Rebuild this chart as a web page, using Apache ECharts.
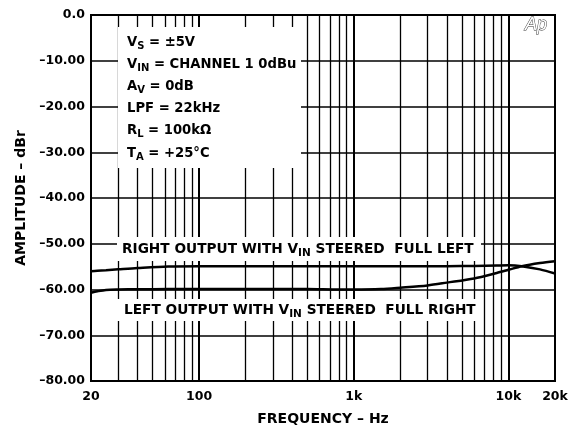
<!DOCTYPE html>
<html>
<head>
<meta charset="utf-8">
<script src="https://cdn.jsdelivr.net/npm/echarts@6/dist/echarts.min.js"></script>
<style>
html,body{margin:0;padding:0;background:#fff;}
#c{width:582px;height:431px;}
</style>
</head>
<body>
<div id="c"></div>
<script>
// ---- data ----
const freq = [20, 22, 25, 30, 40, 63, 100, 200, 500, 800, 1000, 1500, 2000, 3000, 4000, 6000, 8400, 10000, 12200, 16000, 20000];
const rightOut = [-56.0, -55.9, -55.8, -55.6, -55.3, -54.95, -54.9, -54.9, -54.9, -54.9, -54.9, -54.9, -54.9, -54.9, -54.9, -54.85, -54.75, -54.7, -54.9, -55.6, -56.5];
const leftOut = [-60.7, -60.4, -60.1, -60.0, -59.95, -59.9, -59.9, -59.9, -59.9, -60.0, -60.0, -59.9, -59.6, -59.1, -58.5, -57.6, -56.4, -55.7, -54.9, -54.2, -53.8];
const xTickValues = [20, 100, 1000, 10000, 20000];
const xTickLabels = ['20', '100', '1k', '10k', '20k'];
const minorGridFreqs = [30, 40, 50, 60, 70, 80, 90, 200, 300, 400, 500, 600, 700, 800, 900, 2000, 3000, 4000, 5000, 6000, 7000, 8000, 9000];
const decadeGridFreqs = [100, 1000, 10000];

const FONT = 'DejaVu Sans';

const chart = echarts.init(document.getElementById('c'), null, {renderer: 'canvas'});

function pairs(ys) { return freq.map((f, i) => [f, ys[i]]); }

const sub = {fontFamily: FONT, fontWeight: 'bold', fontSize: 10, lineHeight: 22.2, padding: [8, 0, 0, 0], fill: '#000'};
const nrm = {fontFamily: FONT, fontWeight: 'bold', fontSize: 13.2, lineHeight: 22.2, fill: '#000'};
const sub2 = {fontFamily: FONT, fontWeight: 'bold', fontSize: 10.5, lineHeight: 22, padding: [8, 0, 0, 0], fill: '#000'};
const nrm2 = {fontFamily: FONT, fontWeight: 'bold', fontSize: 13.7, lineHeight: 22, fill: '#000'};

const option = {
  animation: false,
  backgroundColor: '#fff',
  grid: {left: 91, right: 27, top: 15, bottom: 48, show: true, borderColor: '#000', borderWidth: 2, backgroundColor: 'transparent'},
  xAxis: {
    type: 'log', logBase: 10, min: 20, max: 20000,
    name: 'FREQUENCY \u2013 Hz', nameLocation: 'middle', nameGap: 31,
    nameTextStyle: {fontFamily: FONT, fontWeight: 'bold', fontSize: 14, color: '#000'},
    axisLine: {show: false}, axisTick: {show: false},
    splitLine: {show: false}, minorSplitLine: {show: false},
    axisLabel: {
      customValues: xTickValues, showMinLabel: true, showMaxLabel: true,
      fontFamily: FONT, fontWeight: 'bold', fontSize: 12.5, color: '#000', margin: 9,
      formatter: function (v) {
        for (let i = 0; i < xTickValues.length; i++) if (Math.abs(v - xTickValues[i]) / xTickValues[i] < 1e-6) return xTickLabels[i];
        return '';
      }
    }
  },
  yAxis: {
    type: 'value', min: -80, max: 0, interval: 10,
    name: 'AMPLITUDE \u2013 dBr', nameLocation: 'middle', nameGap: 63, nameRotate: 90,
    nameTextStyle: {fontFamily: FONT, fontWeight: 'bold', fontSize: 14, color: '#000'},
    axisLine: {show: false}, axisTick: {show: false},
    splitLine: {show: true, lineStyle: {color: '#000', width: 1.5}},
    axisLabel: {
      fontFamily: FONT, fontWeight: 'bold', fontSize: 12.5, color: '#000', margin: 6,
      formatter: function (v) { return v === 0 ? '0.0' : '\u2013' + Math.abs(v).toFixed(2); }
    }
  },
  series: [
    {
      name: 'grid', type: 'line', data: [], silent: true, z: 1,
      markLine: {
        silent: true, symbol: ['none', 'none'], label: {show: false}, animation: false,
        lineStyle: {color: '#000', width: 1.3, type: 'solid'},
        emphasis: {disabled: true},
        data: minorGridFreqs.map(f => ({xAxis: f})).concat(decadeGridFreqs.map(f => ({xAxis: f, lineStyle: {width: 2, color: '#000', type: 'solid'}})))
      }
    },
    {
      name: 'Right output', type: 'line', data: pairs(rightOut), showSymbol: false, smooth: 0.3, z: 5,
      lineStyle: {color: '#000', width: 2.5}
    },
    {
      name: 'Left output', type: 'line', data: pairs(leftOut), showSymbol: false, smooth: 0.3, z: 5,
      lineStyle: {color: '#000', width: 2.5}
    }
  ],
  graphic: [
    {type: 'rect', z: 100, shape: {x: 118, y: 27, width: 183, height: 141}, style: {fill: '#fff'}},
    {type: 'text', z: 101, x: 127, y: 31, style: {
      text: '{n|V}{s|S}{n| = \u00b15V}\n{n|V}{s|IN}{n| = CHANNEL 1 0dBu}\n{n|A}{s|V}{n| = 0dB}\n{n|LPF = 22kHz}\n{n|R}{s|L}{n| = 100k\u03a9}\n{n|T}{s|A}{n| = +25\u00b0C}',
      rich: {n: nrm, s: sub}
    }},
    {type: 'rect', z: 100, shape: {x: 117, y: 237, width: 364, height: 24}, style: {fill: '#fff'}},
    {type: 'text', z: 101, x: 122, y: 238, style: {
      text: '{n|RIGHT OUTPUT WITH V}{s|IN}{n| STEERED  FULL LEFT}', rich: {n: nrm2, s: sub2}
    }},
    {type: 'rect', z: 100, shape: {x: 117, y: 299, width: 364, height: 22}, style: {fill: '#fff'}},
    {type: 'text', z: 101, x: 124, y: 299, style: {
      text: '{n|LEFT OUTPUT WITH V}{s|IN}{n| STEERED  FULL RIGHT}', rich: {n: nrm2, s: sub2}
    }},
    {type: 'text', z: 101, x: 525, y: 16, style: {
      text: 'Ap', fontFamily: 'Liberation Sans', fontStyle: 'italic', fontSize: 18, fill: '#fff', stroke: '#333', lineWidth: 0.9
    }}
  ]
};
chart.setOption(option);
</script>
</body>
</html>
